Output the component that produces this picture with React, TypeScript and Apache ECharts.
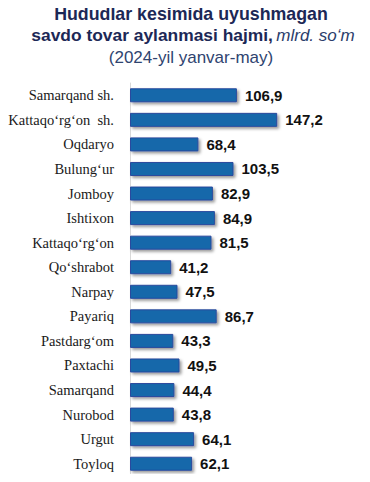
import React, { useEffect, useRef } from "react";
import * as echarts from "echarts";

const categories = [
  "Samarqand sh.",
  "Kattaqo‘rg‘on  sh.",
  "Oqdaryo",
  "Bulung‘ur",
  "Jomboy",
  "Ishtixon",
  "Kattaqo‘rg‘on",
  "Qo‘shrabot",
  "Narpay",
  "Payariq",
  "Pastdarg‘om",
  "Paxtachi",
  "Samarqand",
  "Nurobod",
  "Urgut",
  "Toyloq",
];
const values = [106.9, 147.2, 68.4, 103.5, 82.9, 84.9, 81.5, 41.2, 47.5, 86.7, 43.3, 49.5, 44.4, 43.8, 64.1, 62.1];

const titleLine1 = "Hududlar kesimida uyushmagan";
const titleLine2a = "savdo tovar aylanmasi hajmi,";
const titleLine2b = "mlrd. so‘m";
const titleLine3 = "(2024-yil yanvar-may)";

export default function App() {
  const ref = useRef<HTMLDivElement>(null);
  useEffect(() => {
    if (!ref.current) return;
    const chart = echarts.init(ref.current, null, { renderer: "svg" });
    chart.setOption({
      animation: false,
      backgroundColor: "#ffffff",
      graphic: [
        {
          type: "text",
          style: {
            text: titleLine1,
            x: 191,
            y: 14,
            textAlign: "center",
            textVerticalAlign: "middle",
            font: "bold 17.8px 'Liberation Sans', Arial, sans-serif",
            fill: "#1c2856",
          },
        },
        {
          type: "text",
          style: {
            text: "{b|" + titleLine2a + "} {i|" + titleLine2b + "}",
            x: 193,
            y: 35,
            textAlign: "center",
            textVerticalAlign: "middle",
            rich: {
              b: { font: "bold 17.4px 'Liberation Sans', Arial, sans-serif", fill: "#1c2856" },
              i: { font: "italic 17px 'Liberation Sans', Arial, sans-serif", fill: "#2b3d6b" },
            },
          },
        },
        {
          type: "text",
          style: {
            text: titleLine3,
            x: 191,
            y: 57,
            textAlign: "center",
            textVerticalAlign: "middle",
            font: "17px 'Liberation Sans', Arial, sans-serif",
            fill: "#2f4470",
          },
        },
      ],
      grid: { left: 130, top: 83, width: 220, height: 393, containLabel: false },
      xAxis: {
        type: "value",
        min: 0,
        max: 220,
        show: false,
      },
      yAxis: {
        type: "category",
        data: categories,
        inverse: true,
        axisLine: { show: true, lineStyle: { color: "#d9d9d9", width: 1 } },
        axisTick: { show: false },
        splitLine: { show: false },
        axisLabel: {
          margin: 16,
          color: "#1a1a1a",
          fontSize: 14.5,
          fontFamily: "'Liberation Serif', 'Times New Roman', serif",
        },
      },
      series: [
        {
          type: "bar",
          data: values,
          barWidth: 14,
          itemStyle: {
            color: "#1368aa",
            borderColor: "#2b4a9e",
            borderWidth: 1,
            shadowColor: "rgba(0,0,0,0.4)",
            shadowOffsetX: 2,
            shadowOffsetY: 2,
            shadowBlur: 3,
          },
          label: {
            show: true,
            position: "right",
            distance: 8,
            color: "#111111",
            fontSize: 15,
            fontWeight: "bold",
            fontFamily: "'Liberation Sans', Arial, sans-serif",
            formatter: (p: any) => String(p.value.toFixed(1)).replace(".", ","),
          },
        },
      ],
    });
    return () => chart.dispose();
  }, []);
  return <div ref={ref} style={{ width: 370, height: 482, margin: -8 }} />;
}
